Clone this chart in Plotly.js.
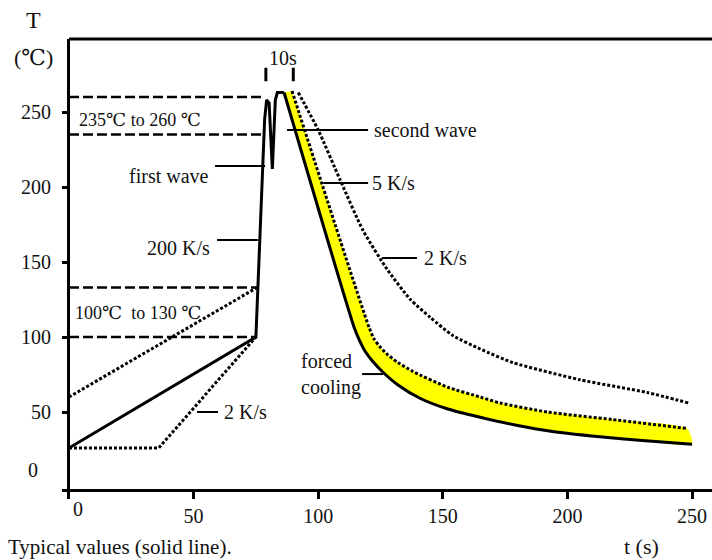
<!DOCTYPE html>
<html>
<head>
<meta charset="utf-8">
<script src="https://cdn.plot.ly/plotly-3.0.1.min.js"></script>
<style>html,body{margin:0;padding:0;background:#fff;}#chart{width:712px;height:560px;}</style>
</head>
<body>
<div id="chart"></div>
<script>
// ---- data (t in s, T in degC) ----
const preheatT = [0, 75];
const preheatY = [26, 100];
const waveT = [75, 78.5, 79.3, 80.3, 81.6, 82.8, 83.6, 86.3];
const waveY = [100, 245, 258, 256, 212, 258, 263, 263];
const coolSolidT = [86.3, 114.5, 116.5, 119, 122, 126, 132, 141, 152, 165, 180, 194, 213, 230, 250];
const coolSolidY = [263, 106, 98, 90, 83.5, 76.5, 68, 59, 52, 46.5, 41, 37, 33.5, 31, 28.5];
const cool5T = [89.5, 120.5, 122.5, 125, 128, 132, 138, 152, 165, 173, 192, 218, 248];
const cool5Y = [264, 106, 98.5, 93, 88, 83, 77, 66.5, 60, 56, 50, 45, 39];
const cool2T = [92, 100, 108.8, 118, 127.7, 137, 145, 154, 165, 178, 205, 232, 248.6];
const cool2Y = [263, 238, 204.7, 171, 145, 125, 113, 101, 92, 83, 71.5, 63, 56];
const slowPreT = [0, 36, 75];
const slowPreY = [26, 26, 100];
const fastPreT = [0, 75.5];
const fastPreY = [60, 133];
const dashLevels = [260, 235, 133, 100];
const dashEnds = [78, 77.5, 75.5, 75];
const windowT = [79, 90];
const windowY = [270.5, 279.5];
const xTicks = [0, 50, 100, 150, 200, 250];
const yTicks = [0, 50, 100, 150, 200, 250];

// labels with leader lines
const labelText = ['first wave', '200 K/s', 'second wave', '5 K/s', '2 K/s', '2 K/s', 'forced<br>cooling'];
const labelX = [57.0, 57.5, 121.6, 120.8, 141.7, 61.4, 105];
const labelY = [207.5, 159.3, 238, 202.7, 152.7, 50, 75.3];
const labelAnchor = ['right', 'right', 'left', 'left', 'left', 'left', 'center'];
const leaderX0 = [58.6, 59.4, 87.5, 102, 125.6, 51.4, 117.6];
const leaderX1 = [78.7, 75.8, 120, 120, 139.6, 59.8, 126];
const leaderY = [214, 164.7, 238, 202.7, 152.7, 50, 75.3];

const F = 'Liberation Serif, DejaVu Serif, serif';
const INK = '#111';
const traces = [];

// yellow band between forced-cooling curve and 5 K/s curve
traces.push({
  x: coolSolidT.concat(cool5T.slice().reverse()),
  y: coolSolidY.concat(cool5Y.slice().reverse()),
  mode: 'lines', fill: 'toself', fillcolor: '#ffff00',
  line: {width: 0, shape: 'spline', smoothing: 0.6}, hoverinfo: 'skip', showlegend: false
});
// dashed reference levels
dashLevels.forEach((lv, i) => {
  traces.push({x: [0, dashEnds[i]], y: [lv, lv], mode: 'lines',
    line: {color: '#000', width: 2.5, dash: '10px,4px'}, showlegend: false});
});
// dotted preheat curves (straight segments)
[[slowPreT, slowPreY], [fastPreT, fastPreY]].forEach(p => {
  traces.push({x: p[0], y: p[1], mode: 'lines',
    line: {color: '#000', width: 3, dash: '3px,2px'}, showlegend: false});
});
// dotted cooling curves
[[cool5T, cool5Y], [cool2T, cool2Y]].forEach(p => {
  traces.push({x: p[0], y: p[1], mode: 'lines',
    line: {color: '#000', width: 3, dash: '3px,2px', shape: 'spline', smoothing: 0.6}, showlegend: false});
});
// typical (solid) profile
traces.push({
  x: preheatT.concat(waveT.slice(1)),
  y: preheatY.concat(waveY.slice(1)),
  mode: 'lines', line: {color: '#000', width: 3}, showlegend: false
});
traces.push({
  x: coolSolidT, y: coolSolidY,
  mode: 'lines', line: {color: '#000', width: 3, shape: 'spline', smoothing: 0.6}, showlegend: false
});
// leaders
labelText.forEach((t, i) => {
  traces.push({x: [leaderX0[i], leaderX1[i]], y: [leaderY[i], leaderY[i]], mode: 'lines',
    line: {color: '#000', width: 2}, showlegend: false});
});
// 10 s window marks
windowT.forEach(t => {
  traces.push({x: [t, t], y: windowY, mode: 'lines', line: {color: '#000', width: 3}, showlegend: false});
});

const annotations = labelText.map((t, i) => ({
  x: labelX[i], y: labelY[i], xref: 'x', yref: 'y', text: t, showarrow: false,
  xanchor: labelAnchor[i], yanchor: 'middle', align: 'left',
  font: {family: F, size: 20, color: INK}
}));
const A = (x, y, text, size, xanchor, xref, yref) => ({x, y, text, showarrow: false,
  xref: xref || 'paper', yref: yref || 'paper', xanchor: xanchor || 'center', yanchor: 'middle',
  font: {family: F, size, color: INK}});
annotations.push(
  A(3.2, 245, '235℃ to 260 ℃', 18, 'left', 'x', 'y'),
  A(1.6, 116, '100℃  to 130 ℃', 18, 'left', 'x', 'y'),
  A(85.9, 286, '10s', 20, 'center', 'x', 'y'),
  A(-0.0446, 1.0422, 'T', 24),
  A(-0.0431, 0.9578, '(℃)', 22),
  A(-0.0446, 0.0422, String(yTicks[0]), 20),
  A(0.0246, -0.0444, String(xTicks[0]), 20),
  A(0.892, -0.1267, 't (s)', 22),
  A(-0.0862, -0.1289, 'Typical values (solid line).', 21, 'left')
);

const layout = {
  width: 712, height: 560,
  margin: {l: 62, r: 0, t: 39, b: 71},
  paper_bgcolor: '#fff', plot_bgcolor: '#fff',
  showlegend: false,
  font: {family: F, color: INK},
  xaxis: {
    range: [-2.8, 258], tickvals: xTicks, ticktext: xTicks.map((v, i) => i === 0 ? '' : String(v)),
    showgrid: false, showline: true, linecolor: '#000', linewidth: 3,
    ticks: 'outside', ticklen: 7, tickwidth: 3, tickcolor: '#000',
    zeroline: true, zerolinecolor: '#000', zerolinewidth: 3,
    tickfont: {family: F, size: 20, color: INK}, fixedrange: true
  },
  yaxis: {
    range: [-1.33, 298.67], tickvals: yTicks.slice(1), ticktext: yTicks.slice(1).map(String),
    showgrid: false, showline: false, zeroline: false,
    ticks: 'inside', ticklen: 6, tickwidth: 3, tickcolor: '#000',
    ticklabelstandoff: 10,
    tickfont: {family: F, size: 20, color: INK}, fixedrange: true
  },
  shapes: [{type: 'line', xref: 'x', yref: 'paper', x0: 0, x1: 258, y0: 1, y1: 1,
    line: {color: '#000', width: 3}}],
  annotations: annotations
};

Plotly.newPlot('chart', traces, layout, {staticPlot: true, displayModeBar: false});
</script>
</body>
</html>
